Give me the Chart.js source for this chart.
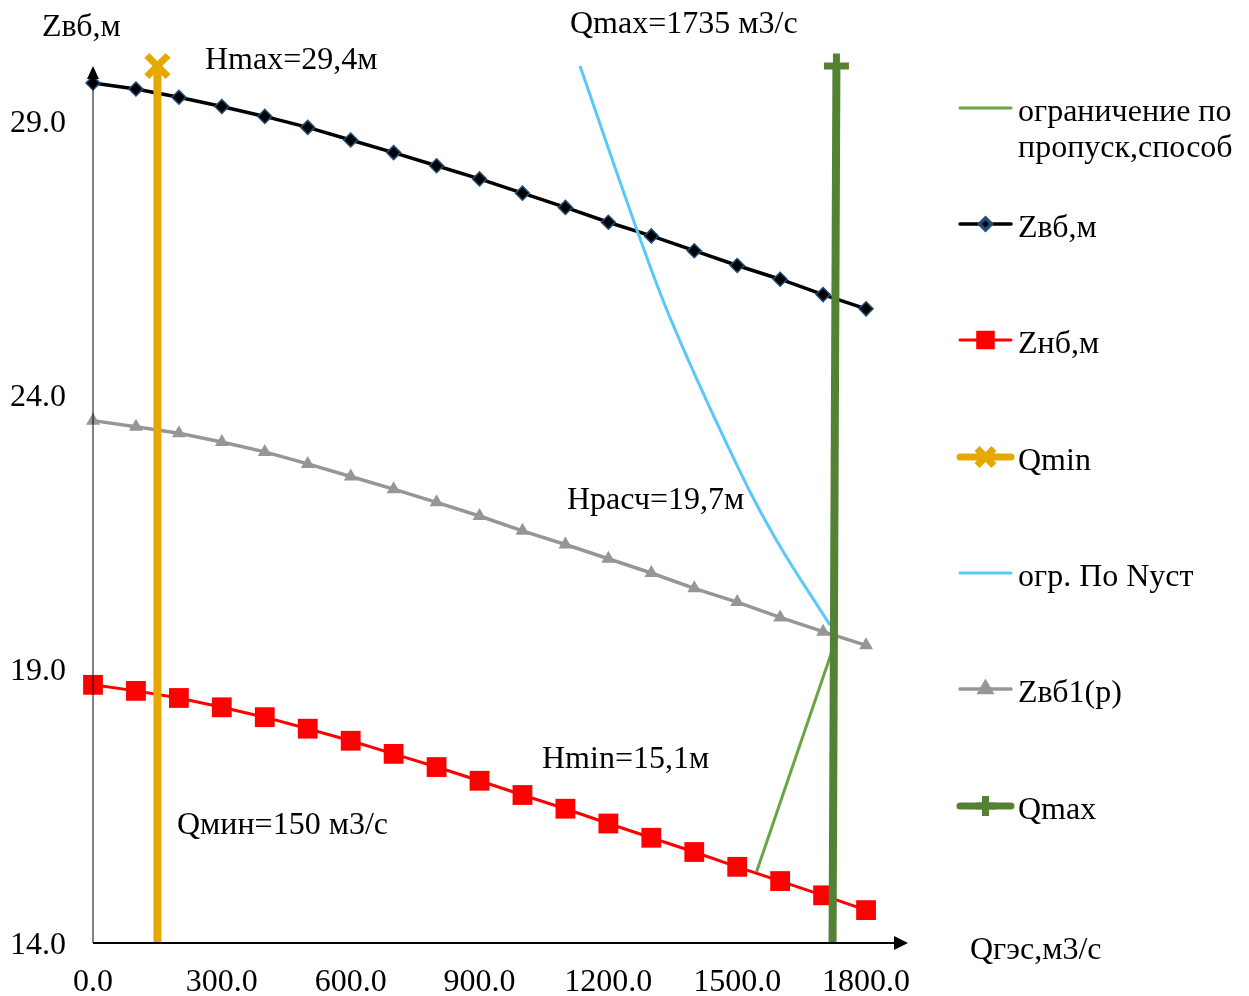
<!DOCTYPE html>
<html>
<head>
<meta charset="utf-8">
<script src="https://cdn.jsdelivr.net/npm/chart.js@4.4.1/dist/chart.umd.min.js"></script>
<style>
    body { margin: 0; background: #fff; }
    #wrap { width: 1249px; height: 996px; }
</style>
</head>
<body>
<div id="wrap"><canvas id="myChart"></canvas></div>
<script>
// расходы ГЭС, м3/с
const qValues = [0, 100, 200, 300, 400, 500, 600, 700, 800, 900, 1000, 1100, 1200, 1300, 1400, 1500, 1600, 1700, 1800];
const zVb = [29.69, 29.58, 29.43, 29.26, 29.08, 28.88, 28.65, 28.42, 28.18, 27.94, 27.68, 27.42, 27.15, 26.90, 26.63, 26.36, 26.11, 25.83, 25.57];
const zNb = [18.71, 18.60, 18.47, 18.30, 18.12, 17.91, 17.69, 17.45, 17.21, 16.96, 16.70, 16.45, 16.18, 15.92, 15.66, 15.39, 15.13, 14.87, 14.60];
const zVb1 = [23.53, 23.42, 23.30, 23.14, 22.96, 22.74, 22.51, 22.28, 22.04, 21.79, 21.52, 21.27, 21.01, 20.75, 20.47, 20.22, 19.94, 19.68, 19.43];

// ограничения
const qMinX = [150, 150];
const qMinY = [14, 30];
const qMaxX = [1722, 1731];
const qMaxY = [14, 30];
const nUstX = [1134, 1267, 1344, 1476, 1584, 1716];
const nUstY = [30.0, 27.0, 25.4, 23.1, 21.45, 19.8];
const propX = [1545, 1724];
const propY = [15.3, 19.4];

const xTicks = [0, 300, 600, 900, 1200, 1500, 1800];
const yTicks = [14, 19, 24, 29];

const FONT = "'Liberation Serif', 'Times New Roman', serif";

function pts(xs, ys) {
    return xs.map((x, i) => ({ x: x, y: ys[i] }));
}

const legendItems = [
    { text: ['ограничение по', 'пропуск,способ'], color: '#6aa443', width: 3, style: false, y: 108 },
    { text: ['Zвб,м'], color: '#000000', width: 3.5, style: 'rectRot', r: 6, fill: '#000', border: '#1f4e79', y: 224 },
    { text: ['Zнб,м'], color: '#ff0000', width: 3, style: 'rect', r: 11, fill: '#ff0000', border: '#ff0000', y: 340 },
    { text: ['Qmin'], color: '#e6a800', width: 7, style: 'crossRot', r: 12, fill: '#e6a800', border: '#e6a800', bw: 6, y: 457 },
    { text: ['огр. По Nуст'], color: '#5bc8fa', width: 3, style: false, y: 573 },
    { text: ['Zвб1(р)'], color: '#969696', width: 3.5, style: 'triangle', r: 7, fill: '#969696', border: '#969696', y: 689 },
    { text: ['Qmax'], color: '#548235', width: 7, style: 'cross', r: 10, fill: '#548235', border: '#548235', bw: 6, y: 806 }
];

const annotations = [
    { text: 'Zвб,м', x: 42, y: 28 },
    { text: 'Qmax=1735 м3/с', x: 570, y: 25 },
    { text: 'Hmax=29,4м', x: 205, y: 61 },
    { text: 'Нрасч=19,7м', x: 567, y: 501 },
    { text: 'Hmin=15,1м', x: 542, y: 760 },
    { text: 'Qмин=150 м3/с', x: 177, y: 826 },
    { text: 'Qгэс,м3/с', x: 970, y: 951 }
];

// оси со стрелками, подписи и легенда
const extras = {
    id: 'extras',
    afterDraw(chart) {
        const ctx = chart.ctx;
        const xs = chart.scales.x;
        const ys = chart.scales.y;
        const x0 = xs.getPixelForValue(0);
        const y0 = ys.getPixelForValue(14);
        ctx.save();
        ctx.strokeStyle = '#000';
        ctx.fillStyle = '#000';
        // ось Y
        ctx.lineWidth = 1;
        ctx.beginPath();
        ctx.moveTo(x0, y0);
        ctx.lineTo(x0, 78);
        ctx.stroke();
        ctx.beginPath();
        ctx.moveTo(x0, 66);
        ctx.lineTo(x0 - 6, 79);
        ctx.lineTo(x0 + 6, 79);
        ctx.closePath();
        ctx.fill();
        // ось X
        ctx.lineWidth = 2;
        ctx.beginPath();
        ctx.moveTo(x0, y0);
        ctx.lineTo(896, y0);
        ctx.stroke();
        ctx.beginPath();
        ctx.moveTo(908, y0);
        ctx.lineTo(894, y0 - 7);
        ctx.lineTo(894, y0 + 7);
        ctx.closePath();
        ctx.fill();

        ctx.font = '32px ' + FONT;
        ctx.textBaseline = 'middle';
        ctx.textAlign = 'left';
        annotations.forEach(a => ctx.fillText(a.text, a.x, a.y));

        legendItems.forEach(it => {
            ctx.strokeStyle = it.color;
            ctx.lineWidth = it.width;
            ctx.lineCap = 'round';
            ctx.beginPath();
            ctx.moveTo(960, it.y);
            ctx.lineTo(1011, it.y);
            ctx.stroke();
            ctx.lineCap = 'butt';
            if (it.style) {
                ctx.fillStyle = it.fill;
                ctx.strokeStyle = it.border;
                Chart.helpers.drawPoint(ctx, { pointStyle: it.style, radius: it.r, borderWidth: it.bw || 1.5, rotation: 0 }, 985.5, it.y);
            }
            ctx.fillStyle = '#000';
            it.text.forEach((t, i) => ctx.fillText(t, 1018, it.y + 5 + i * 36));
        });
        ctx.restore();
    }
};

const ctx = document.getElementById('myChart').getContext('2d');
new Chart(ctx, {
    type: 'scatter',
    data: {
        datasets: [
            {
                label: 'Qmax',
                data: pts(qMaxX, qMaxY),
                showLine: true,
                borderColor: '#548235',
                backgroundColor: '#548235',
                borderWidth: 8,
                pointStyle: 'cross',
                pointRadius: [0, 12.5],
                pointBorderWidth: 7,
                clip: false,
                order: 0
            },
            {
                label: 'Qmin',
                data: pts(qMinX, qMinY),
                showLine: true,
                borderColor: '#e6a800',
                backgroundColor: '#e6a800',
                borderWidth: 8,
                pointStyle: 'crossRot',
                pointRadius: [0, 15],
                pointBorderWidth: 7,
                clip: false,
                order: 1
            },
            {
                label: 'ограничение по пропуск,способ',
                data: pts(propX, propY),
                showLine: true,
                borderColor: '#6aa443',
                borderWidth: 3,
                pointRadius: 0,
                order: 2
            },
            {
                label: 'огр. По Nуст',
                data: pts(nUstX, nUstY),
                showLine: true,
                borderColor: '#5bc8fa',
                borderWidth: 3,
                pointRadius: 0,
                tension: 0.4,
                clip: false,
                order: 3
            },
            {
                label: 'Zнб,м',
                data: pts(qValues, zNb),
                showLine: true,
                borderColor: '#ff0000',
                backgroundColor: '#ff0000',
                borderWidth: 3,
                pointStyle: 'rect',
                pointRadius: 14,
                pointBorderWidth: 0,
                clip: false,
                order: 4
            },
            {
                label: 'Zвб,м',
                data: pts(qValues, zVb),
                showLine: true,
                borderColor: '#000000',
                backgroundColor: '#000000',
                borderWidth: 3.5,
                pointStyle: 'rectRot',
                pointRadius: 7,
                pointBorderWidth: 1.5,
                pointBorderColor: '#1f4e79',
                clip: false,
                order: 5
            },
            {
                label: 'Zвб1(р)',
                data: pts(qValues, zVb1),
                showLine: true,
                borderColor: '#969696',
                backgroundColor: '#969696',
                borderWidth: 3.5,
                pointStyle: 'triangle',
                pointRadius: 8,
                pointBorderWidth: 0,
                clip: false,
                order: 6
            }
        ]
    },
    options: {
        responsive: true,
        maintainAspectRatio: false,
        animation: false,
        layout: { padding: { left: 0, right: 340, top: 66, bottom: 0 } },
        plugins: {
            legend: { display: false },
            tooltip: { enabled: false }
        },
        scales: {
            x: {
                type: 'linear',
                min: 0,
                max: 1900,
                grid: { display: false, drawTicks: false },
                border: { display: false },
                afterFit: s => { s.height = 53; },
                afterBuildTicks: s => { s.ticks = xTicks.map(v => ({ value: v })); },
                ticks: {
                    padding: 20,
                    color: '#000',
                    font: { family: FONT, size: 32 },
                    maxRotation: 0,
                    autoSkip: false,
                    callback: v => v.toFixed(1)
                }
            },
            y: {
                type: 'linear',
                min: 14,
                max: 30,
                grid: { display: false, drawTicks: false },
                border: { display: false },
                afterFit: s => { s.width = 93; },
                afterBuildTicks: s => { s.ticks = yTicks.map(v => ({ value: v })); },
                ticks: {
                    padding: 27,
                    labelOffset: 3,
                    color: '#000',
                    font: { family: FONT, size: 32 },
                    autoSkip: false,
                    callback: v => v.toFixed(1)
                }
            }
        }
    },
    plugins: [extras]
});
</script>
</body>
</html>
